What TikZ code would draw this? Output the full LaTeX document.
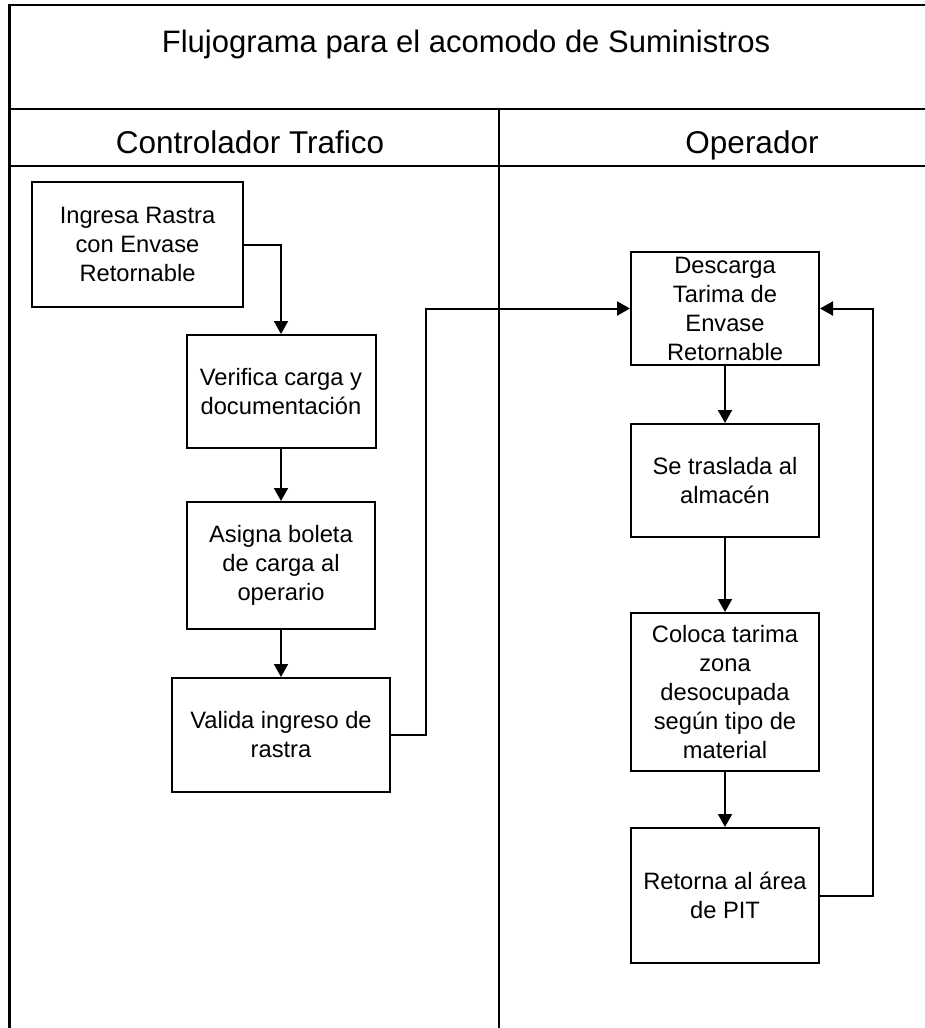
\documentclass[tikz,border=0pt]{standalone}
\usepackage{fontspec}
\setmainfont{Liberation Sans}
\usetikzlibrary{arrows.meta}

\tikzset{
  frameline/.style={line width=2.2pt, line cap=rect},
  stepbox/.style={draw, line width=2pt, rectangle, align=center, inner sep=0pt,
    font=\fontsize{23.7}{29}\selectfont},
  flow/.style={line width=2pt, -{Triangle[length=13pt,width=14pt]}},
  lanehead/.style={font=\fontsize{31.5}{37}\selectfont, inner sep=0pt, anchor=base},
}

\begin{document}
\begin{tikzpicture}[x=1pt, y=-1pt]
  \useasboundingbox (0,0) rectangle (925,1028);
  \clip (0,0) rectangle (925,1028);

  % swimlane frame (runs past the right and bottom edges)
  \draw[frameline] (9.5,1040) -- (9.5,5) -- (940,5);
  \draw[frameline] (9.5,109) -- (940,109);
  \draw[frameline] (9.5,166) -- (940,166);
  \draw[frameline] (499,109) -- (499,1040);

  % title and lane headers
  \node[inner sep=0pt, anchor=base, font=\fontsize{31}{37}\selectfont] (title) at (466,52) {Flujograma para el acomodo de Suministros};
  \node[lanehead] (laneA) at (250,153) {Controlador Trafico};
  \node[lanehead] (laneB) at (752,153) {Operador};

  % Controlador Trafico lane
  \node[stepbox, minimum width=211pt, minimum height=125pt] (b1) at (137.5,244.5) {Ingresa Rastra\\con Envase\\Retornable};
  \node[stepbox, minimum width=189pt, minimum height=113pt] (b2) at (281,391.5) {Verifica carga y\\documentación};
  \node[stepbox, minimum width=188pt, minimum height=127pt] (b3) at (281,565.5) {Asigna boleta\\de carga al\\operario};
  \node[stepbox, minimum width=218pt, minimum height=114pt] (b4) at (281,735) {Valida ingreso de\\rastra};

  % Operador lane
  \node[stepbox, minimum width=188pt, minimum height=113pt] (d1) at (725,308.5) {Descarga\\Tarima de\\Envase\\Retornable};
  \node[stepbox, minimum width=188pt, minimum height=113pt] (d2) at (725,480.5) {Se traslada al\\almacén};
  \node[stepbox, minimum width=188pt, minimum height=158pt] (d3) at (725,692) {Coloca tarima\\zona\\desocupada\\según tipo de\\material};
  \node[stepbox, minimum width=188pt, minimum height=135pt] (d4) at (725,895.5) {Retorna al área\\de PIT};

  % connectors
  \draw[flow] (b1.east) -| (b2.north);
  \draw[flow] (b2.south) -- (b3.north);
  \draw[flow] (b3.south) -- (b4.north);
  \draw[flow] (b4.east) -- ++(35,0) |- (d1.west);
  \draw[flow] (d1.south) -- (d2.north);
  \draw[flow] (d2.south) -- (d3.north);
  \draw[flow] (d3.south) -- (d4.north);
  \draw[flow] (d4.east) -- ++(53,0) |- (d1.east);
\end{tikzpicture}
\end{document}
